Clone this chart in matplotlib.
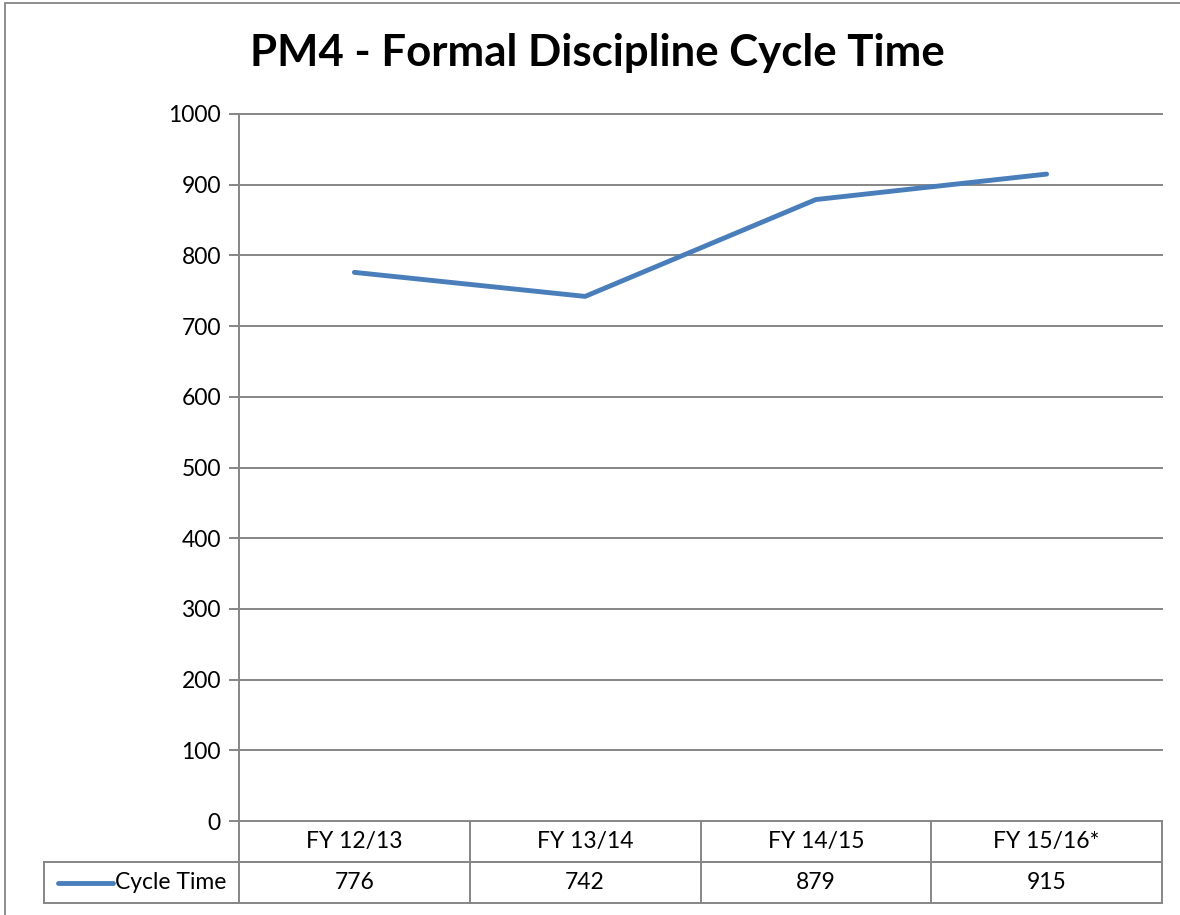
import matplotlib
matplotlib.use("Agg")
import matplotlib.pyplot as plt
import matplotlib.transforms as mtransforms
from matplotlib.patches import Rectangle
from matplotlib.lines import Line2D

title = "PM4 - Formal Discipline Cycle Time"
categories = ["FY 12/13", "FY 13/14", "FY 14/15", "FY 15/16*"]
series_name = "Cycle Time"
cycle_time = [776, 742, 879, 915]
y_ticks = [0, 100, 200, 300, 400, 500, 600, 700, 800, 900, 1000]

W, H = 1180, 915
plt.rcParams['font.family'] = ['Lato', 'DejaVu Sans']
fig = plt.figure(figsize=(W / 100, H / 100), dpi=100)
fig.patch.set_facecolor('white')

grid_c = '#868686'
line_c = '#4A7EBB'

# outer chart border
fig.patches.append(Rectangle((5 / W, -0.1), 1.2, 1.1 - 3 / H, transform=fig.transFigure,
                             fill=False, edgecolor=grid_c, linewidth=1.3))

left, right, top, bottom = 239, 1162, 114, 821
ax = fig.add_axes([left / W, 1 - bottom / H, (right - left) / W, (bottom - top) / H])
x = list(range(len(categories)))
ax.plot(x, cycle_time, color=line_c, linewidth=3.5, solid_capstyle='round', zorder=3)
ax.set_xlim(-0.5, len(categories) - 0.5)
ax.set_ylim(y_ticks[0], y_ticks[-1])
ax.set_yticks(y_ticks)
ax.set_yticklabels([str(v) for v in y_ticks], fontsize=16.5)
ax.set_xticks([])
for v in y_ticks:
    ax.axhline(v, color=grid_c, linewidth=1.4, zorder=1, clip_on=False)
for s in ['top', 'right', 'bottom']:
    ax.spines[s].set_visible(False)
ax.spines['left'].set_color(grid_c)
ax.spines['left'].set_linewidth(1.4)
ax.tick_params(axis='y', length=7, width=1.4, color=grid_c, pad=6, labelcolor='black')

# data table below the axes
ph = bottom - top
pw = right - left
r1 = -41 / ph
r2 = -82 / ph
xl = -0.5 + (44 - left) / pw * len(categories)
trans = mtransforms.blended_transform_factory(ax.transData, ax.transAxes)
lk = dict(color=grid_c, linewidth=1.4, clip_on=False, transform=trans)
xmax = len(categories) - 0.5
ax.add_line(Line2D([-0.5, xmax], [r1, r1], **lk))
ax.add_line(Line2D([xl, xmax], [r1, r1], **lk))
ax.add_line(Line2D([xl, xmax], [r2, r2], **lk))
ax.add_line(Line2D([xl, xl], [r1, r2], **lk))
for i in range(len(categories) + 1):
    xb = i - 0.5
    ax.add_line(Line2D([xb, xb], [0, r2], **lk))
for i, (c, v) in enumerate(zip(categories, cycle_time)):
    ax.text(i, r1 / 2, c, transform=trans, ha='center', va='center', fontsize=16.5)
    ax.text(i, (r1 + r2) / 2, str(v), transform=trans, ha='center', va='center', fontsize=16.5)
# legend key in table
ls0 = -0.5 + (58 - left) / pw * len(categories)
ls1 = -0.5 + (113 - left) / pw * len(categories)
ax.add_line(Line2D([ls0, ls1], [(r1 + r2) / 2] * 2, color=line_c, linewidth=3.5,
                   solid_capstyle='round', clip_on=False, transform=trans))
ax.text(ls1 + 0.01, (r1 + r2) / 2, series_name, transform=trans, ha='left', va='center', fontsize=16.5)

fig.text(597 / W, 1 - 53 / H, title, ha='center', va='center', fontsize=31.5, fontweight='bold')

fig.savefig('out.png', dpi=100)
